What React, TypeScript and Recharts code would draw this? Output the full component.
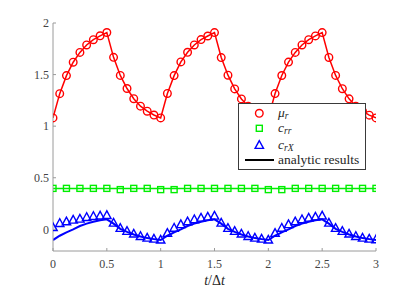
import React from 'react';
import { LineChart, Line, XAxis, YAxis, ReferenceLine, Legend } from 'recharts';

// time samples t/Δt
const tValues: number[] = [
  0, 0.0625, 0.125, 0.1875, 0.25, 0.3125, 0.375, 0.4375, 0.5, 0.5625, 0.625, 0.6875, 0.75, 0.8125, 0.875, 0.9375,
  1, 1.0625, 1.125, 1.1875, 1.25, 1.3125, 1.375, 1.4375, 1.5, 1.5625, 1.625, 1.6875, 1.75, 1.8125, 1.875, 1.9375,
  2, 2.0625, 2.125, 2.1875, 2.25, 2.3125, 2.375, 2.4375, 2.5, 2.5625, 2.625, 2.6875, 2.75, 2.8125, 2.875, 2.9375,
  3,
];

// mu_r (red circles)
const muR: number[] = [
  1.08, 1.315, 1.49, 1.62, 1.715, 1.787, 1.838, 1.876, 1.908, 1.667, 1.492, 1.365, 1.266, 1.194, 1.145, 1.108,
  1.08, 1.317, 1.49, 1.623, 1.716, 1.787, 1.839, 1.874, 1.907, 1.665, 1.494, 1.361, 1.264, 1.194, 1.145, 1.108,
  1.08, 1.316, 1.491, 1.621, 1.715, 1.787, 1.838, 1.875, 1.907, 1.666, 1.492, 1.363, 1.265, 1.194, 1.145, 1.107,
  1.08,
];

// c_rr (green squares) at t = 0, 0.125, ..., 3
const tSquares: number[] = [
  0, 0.125, 0.25, 0.375, 0.5, 0.625, 0.75, 0.875, 1, 1.125, 1.25, 1.375, 1.5, 1.625, 1.75, 1.875,
  2, 2.125, 2.25, 2.375, 2.5, 2.625, 2.75, 2.875, 3,
];
const cRR: number[] = [
  0.397, 0.397, 0.397, 0.397, 0.397, 0.385, 0.397, 0.397, 0.385, 0.385, 0.397, 0.397, 0.397, 0.397, 0.397, 0.397,
  0.385, 0.385, 0.397, 0.397, 0.397, 0.397, 0.397, 0.397, 0.397,
];
const cRRAnalytic = 0.397;

// c_rX (blue triangles)
const cRX: number[] = [
  0.02, 0.061, 0.077, 0.093, 0.103, 0.119, 0.129, 0.133, 0.138, 0.064, 0.013, -0.016, -0.042, -0.065, -0.081, -0.091,
  -0.1, -0.035, 0.015, 0.05, 0.077, 0.097, 0.113, 0.122, 0.132, 0.064, 0.013, -0.016, -0.042, -0.065, -0.081, -0.091,
  -0.1, -0.035, 0.015, 0.05, 0.077, 0.097, 0.113, 0.123, 0.133, 0.064, 0.013, -0.016, -0.042, -0.065, -0.081, -0.091,
  -0.097,
];

// analytic c_rX (blue solid line)
const cRXAnalytic: number[] = [
  -0.104, -0.062, -0.03, 0.0, 0.032, 0.055, 0.074, 0.087, 0.097, 0.055, 0.005, -0.025, -0.05, -0.07, -0.085, -0.095,
  -0.104, -0.062, -0.03, 0.0, 0.032, 0.055, 0.074, 0.087, 0.097, 0.055, 0.005, -0.025, -0.05, -0.07, -0.085, -0.095,
  -0.104, -0.062, -0.03, 0.0, 0.032, 0.055, 0.074, 0.087, 0.097, 0.055, 0.005, -0.025, -0.05, -0.07, -0.085, -0.095,
  -0.104,
];

const xTicks: number[] = [0, 0.5, 1, 1.5, 2, 2.5, 3];
const yTicks: number[] = [0, 0.5, 1, 1.5, 2];

const data = tValues.map((t, i) => {
  const j = tSquares.indexOf(t);
  return {
    t,
    mu: muR[i],
    crr: j >= 0 ? cRR[j] : null,
    crx: cRX[i],
    crxA: cRXAnalytic[i],
  };
});

const RED = '#ff0000';
const GREEN = '#00ee00';
const BLUE = '#0000ff';
const AXIS = '#9a9a9a';
const SERIF = 'Liberation Serif, DejaVu Serif, Times New Roman, serif';

const CircleDot = (props: any) => {
  const { cx, cy } = props;
  if (cx == null || cy == null) return <g />;
  return <circle cx={cx} cy={cy} r={3.8} fill="none" stroke={RED} strokeWidth={1.4} />;
};

const SquareDot = (props: any) => {
  const { cx, cy, value } = props;
  if (cx == null || cy == null || value == null) return <g />;
  return <rect x={cx - 3} y={cy - 3} width={6} height={6} fill="none" stroke={GREEN} strokeWidth={1.4} />;
};

const TriDot = (props: any) => {
  const { cx, cy } = props;
  if (cx == null || cy == null) return <g />;
  const pts = `${cx},${cy - 4.3} ${cx - 4.2},${cy + 3.4} ${cx + 4.2},${cy + 3.4}`;
  return <polygon points={pts} fill="none" stroke={BLUE} strokeWidth={1.4} strokeLinejoin="miter" />;
};

const XTitle = (props: any) => {
  const vb = props.viewBox || { x: 53, y: 251, width: 323, height: 39 };
  return (
    <text
      x={vb.x + vb.width / 2}
      y={vb.y + 34}
      textAnchor="middle"
      style={{ fontFamily: SERIF, fontSize: 14 }}
      fill="#262626"
    >
      <tspan fontStyle="italic">t</tspan>
      <tspan>/Δ</tspan>
      <tspan fontStyle="italic">t</tspan>
    </text>
  );
};

const rowStyle = (cy: number): React.CSSProperties => ({
  position: 'absolute',
  left: 39,
  top: cy - 8,
  height: 16,
  lineHeight: '16px',
  fontFamily: SERIF,
  fontSize: 13.5,
  color: '#262626',
  whiteSpace: 'nowrap',
});

const subStyle: React.CSSProperties = { fontStyle: 'italic', fontSize: 9.5, position: 'relative', top: 2 };

const LegendBox = () => (
  <div
    style={{
      position: 'relative',
      width: 128,
      height: 67,
      boxSizing: 'border-box',
      border: '1px solid #3a3a3a',
      background: '#ffffff',
    }}
  >
    <svg width={128} height={67} style={{ position: 'absolute', left: -1, top: -1 }}>
      <circle cx={21.3} cy={10.3} r={3.8} fill="none" stroke={RED} strokeWidth={1.4} />
      <rect x={18.3} y={22.3} width={6} height={6} fill="none" stroke={GREEN} strokeWidth={1.4} />
      <polygon points="21.3,37.7 17.1,45.4 25.5,45.4" fill="none" stroke={BLUE} strokeWidth={1.4} />
      <line x1={7} y1={57} x2={36} y2={57} stroke="#000" strokeWidth={2} />
    </svg>
    <div style={rowStyle(9.3)}>
      <span style={{ fontStyle: 'italic' }}>μ</span>
      <span style={subStyle}>r</span>
    </div>
    <div style={rowStyle(24.3)}>
      <span style={{ fontStyle: 'italic' }}>c</span>
      <span style={subStyle}>rr</span>
    </div>
    <div style={rowStyle(40.5)}>
      <span style={{ fontStyle: 'italic' }}>c</span>
      <span style={subStyle}>rX</span>
    </div>
    <div style={rowStyle(56)}>analytic results</div>
  </div>
);

const tickStyle = { fill: '#444444', fontSize: 12, style: { fontFamily: SERIF } };

export default function App() {
  return (
    <div style={{ position: 'absolute', left: 0, top: 0, width: 415, height: 290, background: '#fff', fontFamily: SERIF }}>
      <LineChart width={415} height={290} data={data} margin={{ top: 23, right: 39, left: 0, bottom: 0 }} style={{ fontFamily: SERIF }}>
        <XAxis
          dataKey="t"
          type="number"
          domain={[0, 3]}
          ticks={xTicks}
          allowDataOverflow
          stroke={AXIS}
          tickSize={-3}
          tickMargin={11}
          height={39}
          tick={tickStyle}
          label={<XTitle />}
          interval={0}
        />
        <XAxis
          xAxisId="top"
          dataKey="t"
          type="number"
          orientation="top"
          domain={[0, 3]}
          ticks={xTicks}
          allowDataOverflow
          stroke={AXIS}
          tickSize={-3}
          tick={false}
          height={0}
          interval={0}
        />
        <YAxis
          type="number"
          domain={[-0.21, 2]}
          ticks={yTicks}
          allowDataOverflow
          stroke={AXIS}
          tickSize={-3}
          tickMargin={7}
          width={53}
          tick={tickStyle}
          interval={0}
        />
        <YAxis
          yAxisId="right"
          type="number"
          orientation="right"
          domain={[-0.21, 2]}
          ticks={yTicks}
          allowDataOverflow
          stroke={AXIS}
          tickSize={-3}
          tick={false}
          width={0}
          interval={0}
        />
        <ReferenceLine y={cRRAnalytic} stroke={GREEN} strokeWidth={1.5} />
        <Line
          dataKey="crxA"
          xAxisId="top"
          yAxisId="right"
          stroke={BLUE}
          strokeWidth={2}
          dot={false}
          isAnimationActive={false}
          legendType="none"
        />
        <Line
          dataKey="crr"
          stroke="none"
          connectNulls
          dot={SquareDot}
          activeDot={false}
          isAnimationActive={false}
        />
        <Line dataKey="crx" stroke="none" dot={TriDot} activeDot={false} isAnimationActive={false} />
        <Line dataKey="mu" stroke={RED} strokeWidth={1.5} dot={CircleDot} activeDot={false} isAnimationActive={false} />
        <Legend
          layout="horizontal"
          verticalAlign="middle"
          align="center"
          content={() => <LegendBox />}
          wrapperStyle={{ left: 238, top: 103, width: 128, height: 67 }}
        />
      </LineChart>
    </div>
  );
}
